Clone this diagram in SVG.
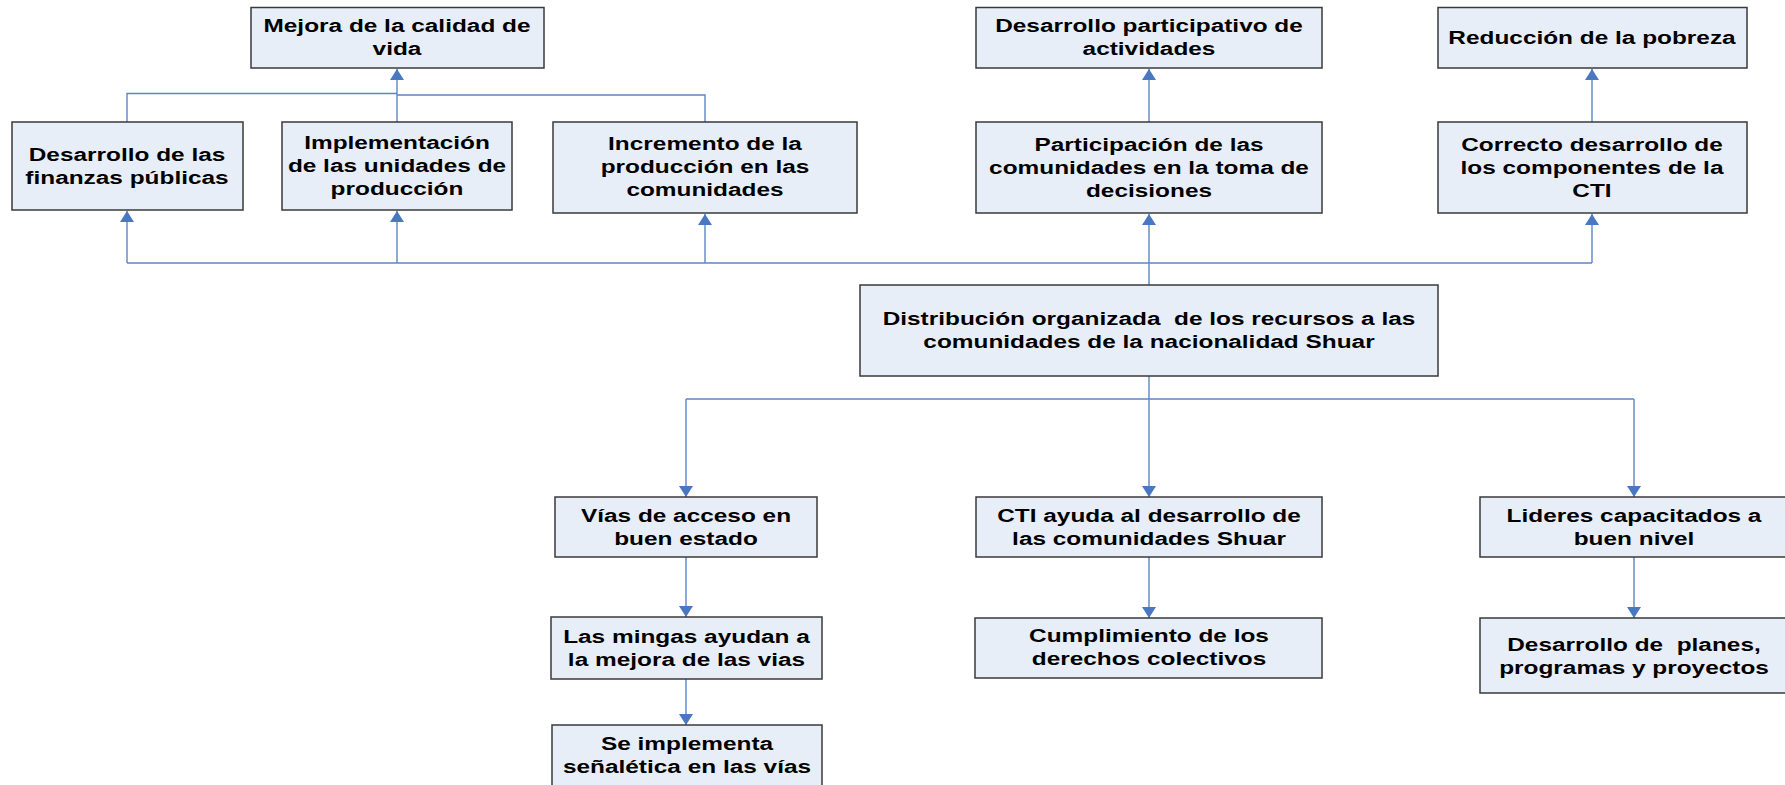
<svg xmlns="http://www.w3.org/2000/svg" width="1785" height="785" viewBox="0 0 1785 785">
<style>
.box{fill:#E8EEF8;stroke:#3A3A3A;stroke-width:1.5}
.t{font-family:"Liberation Sans",Arial,sans-serif;font-weight:bold;font-size:19px;fill:#000;text-anchor:middle;white-space:pre}
.c{fill:none;stroke:#5B86C4;stroke-width:1.4}
.a{stroke:none;fill:#4A78C0}
</style>
<defs>
<marker id="arr" viewBox="0 0 11 14" refX="11" refY="7" markerWidth="11" markerHeight="14" orient="auto" markerUnits="userSpaceOnUse">
<path class="a" d="M0,0 L11,7 L0,14 Z"/>
</marker>
</defs>
<rect width="1785" height="785" fill="#fff"/>

<g id="connectors">
<!-- to Mejora -->
<path class="c" d="M397,122 V69" marker-end="url(#arr)"/>
<path class="c" d="M127,122 V93.5 H397"/>
<path class="c" d="M705,122 V95 H397"/>
<!-- to Desarrollo participativo / Reduccion -->
<path class="c" d="M1149,122 V69" marker-end="url(#arr)"/>
<path class="c" d="M1592,122 V69" marker-end="url(#arr)"/>
<!-- upper distribution -->
<path class="c" d="M1149,285 V214" marker-end="url(#arr)"/>
<path class="c" d="M127,263 H1592"/>
<path class="c" d="M127,263 V211" marker-end="url(#arr)"/>
<path class="c" d="M397,263 V211" marker-end="url(#arr)"/>
<path class="c" d="M705,263 V214" marker-end="url(#arr)"/>
<path class="c" d="M1592,263 V214" marker-end="url(#arr)"/>
<!-- lower distribution -->
<path class="c" d="M1149,376 V497" marker-end="url(#arr)"/>
<path class="c" d="M686,399 H1634"/>
<path class="c" d="M686,399 V497" marker-end="url(#arr)"/>
<path class="c" d="M1634,399 V497" marker-end="url(#arr)"/>
<!-- chains -->
<path class="c" d="M686,557 V617" marker-end="url(#arr)"/>
<path class="c" d="M686,679 V725" marker-end="url(#arr)"/>
<path class="c" d="M1149,557 V618" marker-end="url(#arr)"/>
<path class="c" d="M1634,557 V618" marker-end="url(#arr)"/>
</g>

<g id="n-mejora">
<rect class="box" x="251" y="7.5" width="293" height="60.5"/>
<text class="t" transform="matrix(1.284 0 0 1 397 0)"><tspan x="0" y="32.5">Mejora de la calidad de</tspan><tspan x="0" y="55.5">vida</tspan></text>
</g>
<g id="n-desarrollo-participativo">
<rect class="box" x="976" y="7.5" width="346" height="60.5"/>
<text class="t" transform="matrix(1.284 0 0 1 1149 0)"><tspan x="0" y="32.5">Desarrollo participativo de</tspan><tspan x="0" y="55.5">actividades</tspan></text>
</g>
<g id="n-reduccion">
<rect class="box" x="1438" y="7.5" width="309" height="60.5"/>
<text class="t" transform="matrix(1.284 0 0 1 1592 0)"><tspan x="0" y="44.3">Reducción de la pobreza</tspan></text>
</g>

<g id="n-finanzas">
<rect class="box" x="12" y="122" width="231" height="88"/>
<text class="t" transform="matrix(1.284 0 0 1 127 0)"><tspan x="0" y="161.5">Desarrollo de las</tspan><tspan x="0" y="184.5">finanzas públicas</tspan></text>
</g>
<g id="n-implementacion">
<rect class="box" x="282" y="122" width="230" height="88"/>
<text class="t" transform="matrix(1.284 0 0 1 397 0)"><tspan x="0" y="149.5">Implementación</tspan><tspan x="0" y="172.5">de las unidades de</tspan><tspan x="0" y="195.5">producción</tspan></text>
</g>
<g id="n-incremento">
<rect class="box" x="553" y="122" width="304" height="91"/>
<text class="t" transform="matrix(1.284 0 0 1 705 0)"><tspan x="0" y="150.5">Incremento de la</tspan><tspan x="0" y="173.5">producción en las</tspan><tspan x="0" y="196.5">comunidades</tspan></text>
</g>
<g id="n-participacion">
<rect class="box" x="976" y="122" width="346" height="91"/>
<text class="t" transform="matrix(1.284 0 0 1 1149 0)"><tspan x="0" y="151">Participación de las</tspan><tspan x="0" y="174">comunidades en la toma de</tspan><tspan x="0" y="197">decisiones</tspan></text>
</g>
<g id="n-correcto">
<rect class="box" x="1438" y="122" width="309" height="91"/>
<text class="t" transform="matrix(1.284 0 0 1 1592 0)"><tspan x="0" y="151">Correcto desarrollo de</tspan><tspan x="0" y="174">los componentes de la</tspan><tspan x="0" y="197">CTI</tspan></text>
</g>

<g id="n-distribucion">
<rect class="box" x="860" y="285" width="578" height="91"/>
<text class="t" transform="matrix(1.284 0 0 1 1149 0)"><tspan x="0" y="325.5">Distribución organizada  de los recursos a las</tspan><tspan x="0" y="348.5">comunidades de la nacionalidad Shuar</tspan></text>
</g>

<g id="n-vias">
<rect class="box" x="555" y="497" width="262" height="60"/>
<text class="t" transform="matrix(1.284 0 0 1 686 0)"><tspan x="0" y="522">Vías de acceso en</tspan><tspan x="0" y="545">buen estado</tspan></text>
</g>
<g id="n-cti">
<rect class="box" x="976" y="497" width="346" height="60"/>
<text class="t" transform="matrix(1.284 0 0 1 1149 0)"><tspan x="0" y="522">CTI ayuda al desarrollo de</tspan><tspan x="0" y="545">las comunidades Shuar</tspan></text>
</g>
<g id="n-lideres">
<rect class="box" x="1480" y="497" width="310" height="60"/>
<text class="t" transform="matrix(1.284 0 0 1 1634 0)"><tspan x="0" y="522">Lideres capacitados a</tspan><tspan x="0" y="545">buen nivel</tspan></text>
</g>

<g id="n-mingas">
<rect class="box" x="551" y="617" width="271" height="62"/>
<text class="t" transform="matrix(1.284 0 0 1 686.5 0)"><tspan x="0" y="643">Las mingas ayudan a</tspan><tspan x="0" y="666">la mejora de las vias</tspan></text>
</g>
<g id="n-cumplimiento">
<rect class="box" x="975" y="618" width="347" height="60"/>
<text class="t" transform="matrix(1.284 0 0 1 1149 0)"><tspan x="0" y="642.5">Cumplimiento de los</tspan><tspan x="0" y="665.5">derechos colectivos</tspan></text>
</g>
<g id="n-planes">
<rect class="box" x="1480" y="618" width="310" height="75"/>
<text class="t" transform="matrix(1.284 0 0 1 1634 0)"><tspan x="0" y="651">Desarrollo de  planes,</tspan><tspan x="0" y="674">programas y proyectos</tspan></text>
</g>
<g id="n-senaletica">
<rect class="box" x="552" y="725" width="270" height="75"/>
<text class="t" transform="matrix(1.284 0 0 1 687 0)"><tspan x="0" y="750">Se implementa</tspan><tspan x="0" y="773">señalética en las vías</tspan></text>
</g>
</svg>
